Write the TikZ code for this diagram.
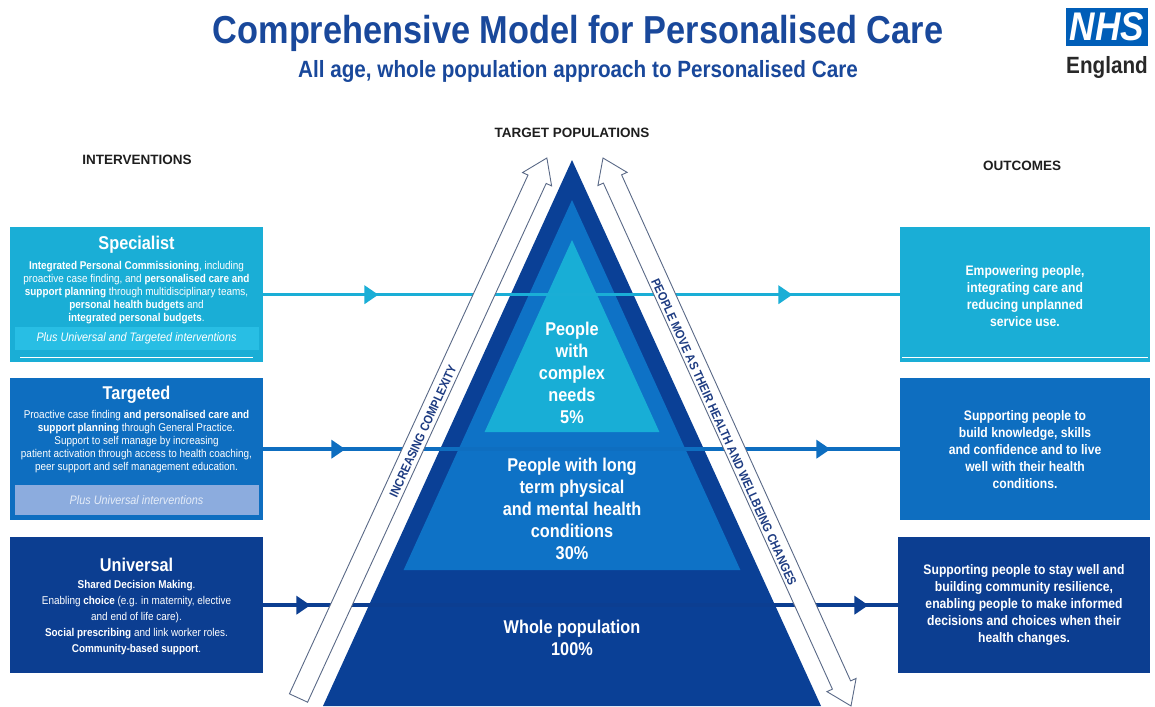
\documentclass[tikz,border=0pt]{standalone}
\usepackage{fontspec}
\setmainfont{Liberation Sans}[FakeStretch=0.88]
\newfontfamily\headfont{Liberation Sans}
\usetikzlibrary{arrows.meta,decorations.markings}
\definecolor{cy}{RGB}{26,174,214}
\definecolor{cyl}{RGB}{40,190,228}
\definecolor{md}{RGB}{14,110,192}
\definecolor{dk}{RGB}{12,62,145}
\definecolor{tgl}{RGB}{140,172,222}
\definecolor{tgt}{RGB}{228,236,248}
\definecolor{pdk}{RGB}{10,64,150}
\definecolor{pmd}{RGB}{14,114,198}
\definecolor{pcy}{RGB}{24,174,214}
\definecolor{nhs}{RGB}{0,94,184}
\definecolor{ttl}{RGB}{25,72,155}
\definecolor{engc}{RGB}{40,40,40}
\definecolor{headc}{RGB}{30,30,30}
\definecolor{outl}{RGB}{90,105,135}
\definecolor{arrtxt}{RGB}{30,60,130}
\tikzset{
  box/.style={anchor=north west, inner sep=0pt},
  ttlL/.style={text=white, inner sep=0pt, font=\fontsize{18.5}{22}\selectfont\bfseries},
  bodyL/.style={text=white, align=center, inner sep=0pt, font=\fontsize{11.3}{13}\selectfont},
  plusbox/.style={minimum width=244pt, inner sep=0pt, font=\fontsize{12.3}{14}\selectfont\itshape},
  outtext/.style={text=white, align=center, inner sep=0pt, font=\fontsize{13.8}{17}\selectfont\bfseries},
  ptext/.style={text=white, align=center, inner sep=0pt, font=\fontsize{18.5}{22}\selectfont\bfseries},
  head/.style={inner sep=0pt, text=headc, font=\headfont\fontsize{13.5}{16}\selectfont\bfseries},
  bigarrow/.style={draw=outl, fill=white, line width=0.9pt, line join=miter},
  arrtext/.style={inner sep=0pt, text=arrtxt, font=\fontsize{12.5}{14}\selectfont\bfseries},
  conn/.style={line width=3.5pt},
  tips/.style 2 args={postaction={decorate}, decoration={markings,
      mark=at position #1 with {\arrow{Triangle[length=14pt,width=18pt]}},
      mark=at position #2 with {\arrow{Triangle[length=14pt,width=18pt]}}}}
}
\begin{document}
\begin{tikzpicture}[x=1pt,y=-1pt]
\useasboundingbox (0,0) rectangle (1155,706);
\fill[white] (0,0) rectangle (1155,706);

% title
\node[inner sep=0pt, text=ttl, font=\fontsize{39}{44}\selectfont\bfseries] (title) at (578,33) {Comprehensive Model for Personalised Care};
\node[inner sep=0pt, text=ttl, font=\fontsize{23.5}{28}\selectfont\bfseries] (subtitle) at (578,71) {All age, whole population approach to Personalised Care};
\node[fill=nhs, minimum width=82pt, minimum height=38pt, inner sep=0pt, text=white, font=\fontsize{40}{40}\selectfont\bfseries\itshape] (nhs) at (1107,27) {NHS};
\node[inner sep=0pt, text=engc, font=\fontsize{23.5}{26}\selectfont\bfseries] (eng) at (1107,67) {England};

% headings
\node[head] (hInt) at (137,160) {INTERVENTIONS};
\node[head] (hTP) at (572,133) {TARGET POPULATIONS};
\node[head] (hOut) at (1022,166) {OUTCOMES};

% left boxes
\node[box, fill=cy, minimum width=253pt, minimum height=135pt] (spec) at (10,227) {};
\node[box, fill=md, minimum width=253pt, minimum height=142pt] (targ) at (10,378) {};
\node[box, fill=dk, minimum width=253pt, minimum height=136pt] (univ) at (10,537) {};

\node[ttlL] (specT) at (136.5,245) {Specialist};
\node[bodyL] (specB) at (136.5,293) {\textbf{Integrated Personal Commissioning}, including\\proactive case finding, and \textbf{personalised care and}\\\textbf{support planning} through multidisciplinary teams,\\\textbf{personal health budgets} and\\\textbf{integrated personal budgets}.};
\node[plusbox, fill=cyl, text=white, minimum height=23pt] (specP) at (136.5,338.5) {Plus Universal and Targeted interventions};
\draw[white, line width=0.8pt] ([xshift=10pt,yshift=5pt]spec.south west) -- ([xshift=-10pt,yshift=5pt]spec.south east);

\node[ttlL] (targT) at (136.5,395) {Targeted};
\node[bodyL] (targB) at (136.5,442) {Proactive case finding \textbf{and personalised care and}\\\textbf{support planning} through General Practice.\\Support to self manage by increasing\\patient activation through access to health coaching,\\peer support and self management education.};
\node[plusbox, fill=tgl, text=tgt, minimum height=30pt] (targP) at (136.5,500) {Plus Universal interventions};

\node[ttlL] (univT) at (136.5,565) {Universal};
\node[bodyL, font=\fontsize{11.3}{16}\selectfont] (univB) at (136.5,618) {\textbf{Shared Decision Making}.\\Enabling \textbf{choice} (e.g. in maternity, elective\\and end of life care).\\\textbf{Social prescribing} and link worker roles.\\\textbf{Community-based support}.};

% right boxes
\node[box, fill=cy, minimum width=250pt, minimum height=135pt] (out1) at (900,227) {};
\node[box, fill=md, minimum width=250pt, minimum height=142pt] (out2) at (900,378) {};
\node[box, fill=dk, minimum width=252pt, minimum height=136pt] (out3) at (898,537) {};
\draw[white, line width=0.8pt] ([xshift=2pt,yshift=5pt]out1.south west) -- ([xshift=-2pt,yshift=5pt]out1.south east);

\node[outtext] (o1t) at (1025,296) {Empowering people,\\integrating care and\\reducing unplanned\\service use.};
\node[outtext] (o2t) at (1025,450) {Supporting people to\\build knowledge, skills\\and confidence and to live\\well with their health\\conditions.};
\node[outtext] (o3t) at (1024,605) {Supporting people to stay well and\\building community resilience,\\enabling people to make informed\\decisions and choices when their\\health changes.};

% pyramid
\fill[pdk] (572,160) -- (323,706) -- (821,706) -- cycle;
\fill[pmd] (572,200) -- (403.6,570) -- (740.4,570) -- cycle;
\fill[pcy] (572,240) -- (484.6,432) -- (659.4,432) -- cycle;

% connectors
\draw[conn, draw=cy, tips={115pt}{529pt}] (spec.east) -- (out1.west);
\draw[conn, draw=md, tips={82pt}{567pt}] (targ.east) -- (out2.west);
\draw[conn, draw=dk, tips={47pt}{605pt}] (univ.east) -- (out3.west);

\node[ptext] (p1) at (572,373) {People\\with\\complex\\needs\\5\%};
\node[ptext] (p2) at (572,509) {People with long\\term physical\\and mental health\\conditions\\30\%};
\node[ptext] (p3) at (572,638) {Whole population\\100\%};

% outline arrows
\begin{scope}[shift={(298.5,698)}, rotate=65.3]
\draw[bigarrow] (0,-10) -- (571,-10) -- (571,-16) -- (594.4,0) -- (571,16) -- (571,10) -- (0,10) -- cycle;
\end{scope}
\begin{scope}[shift={(603,158)}, rotate=-65.65]
\draw[bigarrow] (0,0) -- (23,-16) -- (23,-10) -- (578.5,-10) -- (578.5,-16) -- (601.5,0) -- (578.5,16) -- (578.5,10) -- (23,10) -- (23,16) -- cycle;
\end{scope}
\node[arrtext, rotate=65.3] (incx) at (423,431) {INCREASING COMPLEXITY};
\node[arrtext, rotate=-65.65] (pmove) at (724,432) {PEOPLE MOVE AS THEIR HEALTH AND WELLBEING CHANGES};
\end{tikzpicture}
\end{document}
